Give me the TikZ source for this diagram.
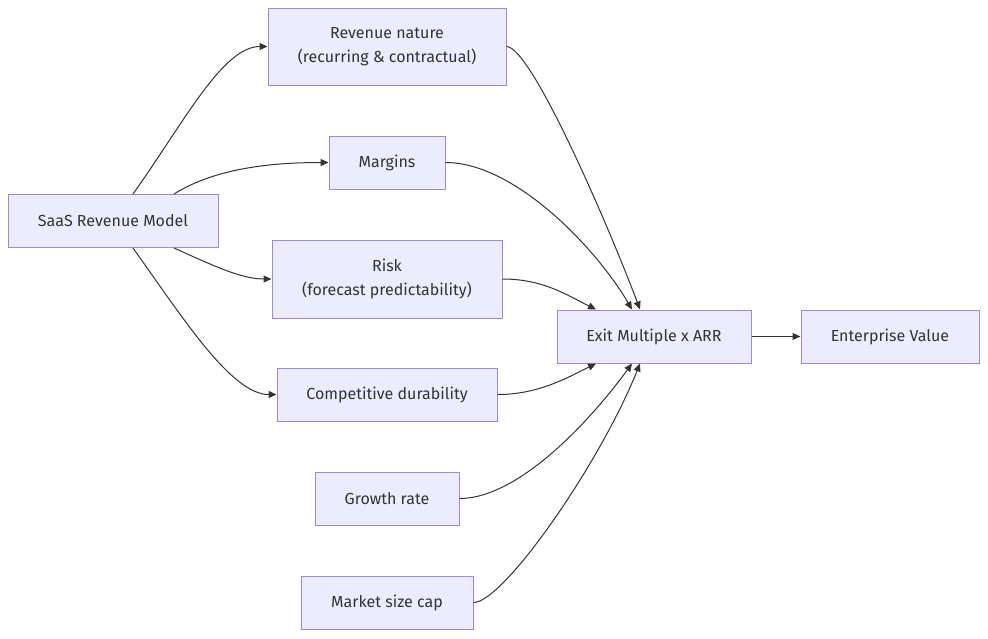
\documentclass[tikz,border=0pt]{standalone}
\usepackage{fontspec}
\setmainfont{Fira Sans}
\usetikzlibrary{arrows.meta}
\definecolor{boxfill}{HTML}{ECECFF}
\definecolor{boxline}{HTML}{9370DB}
\definecolor{ink}{HTML}{333333}
\tikzset{
    box/.style={draw=boxline!85!white, fill=boxfill, line width=1pt, text=ink, align=center,
        minimum height=53pt, inner sep=0pt, font=\fontsize{16}{24}\selectfont},
    edge/.style={draw=ink, line width=1pt, -{Triangle[length=8pt,width=7pt]}}
}

\begin{document}
\begin{tikzpicture}[x=1pt, y=-1pt]
    \useasboundingbox (0,0) rectangle (988,638);
    \node[box, minimum width=210pt] (saas) at (113,221) {SaaS Revenue Model};
    \node[box, minimum width=238pt, minimum height=77pt] (nature) at (387,46.5) {Revenue nature\\(recurring \& contractual)};
    \node[box, minimum width=116pt] (margins) at (387,162.5) {Margins};
    \node[box, minimum width=230pt, minimum height=78pt] (risk) at (387,279) {Risk\\(forecast predictability)};
    \node[box, minimum width=220pt] (durability) at (387,394.5) {Competitive durability};
    \node[box, minimum width=144pt] (growth) at (387,498.5) {Growth rate};
    \node[box, minimum width=172pt] (market) at (387,602.5) {Market size cap};
    \node[box, minimum width=194pt] (exit) at (654,336.5) {Exit Multiple x ARR};
    \node[box, minimum width=178pt] (ev) at (890,336.5) {Enterprise Value};

    % from the revenue model to the drivers
    \draw[edge] ([xshift=20pt]saas.north) .. controls +(50,-70) and +(-45,0) .. (nature.west);
    \draw[edge] ([xshift=61pt]saas.north) .. controls +(40,-25) and +(-60,0) .. (margins.west);
    \draw[edge] ([xshift=61pt]saas.south) .. controls +(40,18) and +(-30,0) .. (risk.west);
    \draw[edge] ([xshift=20pt]saas.south) .. controls +(50,70) and +(-45,0) .. (durability.west);

    % drivers into the exit multiple
    \draw[edge] (nature.east) .. controls +(25,0) and +(-30,-80) .. ([xshift=-14pt]exit.north);
    \draw[edge] (margins.east) .. controls +(70,0) and +(-35,-60) .. ([xshift=-22pt]exit.north);
    \draw[edge] (risk.east) .. controls +(40,0) and +(-30,-15) .. ([xshift=-58pt]exit.north);
    \draw[edge] (durability.east) .. controls +(40,0) and +(-30,15) .. ([xshift=-58pt]exit.south);
    \draw[edge] (growth.east) .. controls +(60,0) and +(-40,55) .. ([xshift=-22pt]exit.south);
    \draw[edge] (market.east) .. controls +(30,0) and +(-40,100) .. ([xshift=-14pt]exit.south);

    \draw[edge] (exit.east) -- (ev.west);
\end{tikzpicture}
\end{document}
